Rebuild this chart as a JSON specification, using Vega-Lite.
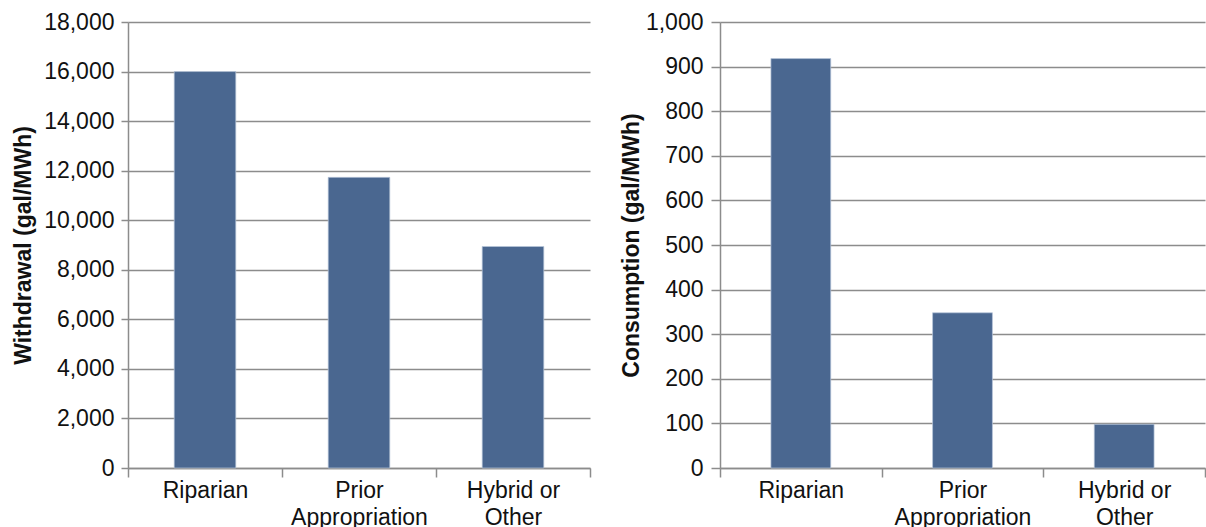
{
  "$schema": "https://vega.github.io/schema/vega-lite/v6.json",
  "padding": {"left": 12, "top": 11, "right": 1, "bottom": 0},
  "spacing": 29,
  "config": {
    "view": {"stroke": null},
    "font": "Liberation Sans",
    "axis": {
      "labelFont": "Liberation Sans",
      "titleFont": "Liberation Sans",
      "labelFontSize": 23,
      "labelColor": "#111111",
      "titleColor": "#111111",
      "titleFontSize": 23,
      "titleFontWeight": "bold",
      "domainColor": "#8c8c8c",
      "domainWidth": 1.5,
      "tickColor": "#8c8c8c",
      "tickWidth": 1.5,
      "gridColor": "#8c8c8c",
      "gridWidth": 1.5
    }
  },
  "datasets": {
    "withdrawal": [
      {"type": "Riparian", "value": 16000},
      {"type": "Prior Appropriation", "value": 11730},
      {"type": "Hybrid or Other", "value": 8940}
    ],
    "consumption": [
      {"type": "Riparian", "value": 918},
      {"type": "Prior Appropriation", "value": 348},
      {"type": "Hybrid or Other", "value": 98}
    ]
  },
  "hconcat": [
    {
      "width": 462,
      "height": 446,
      "data": {"name": "withdrawal"},
      "mark": {"type": "bar", "color": "#4a6790", "stroke": "#b8c6da", "strokeWidth": 0.7, "width": {"band": 0.4}},
      "encoding": {
        "x": {
          "field": "type",
          "type": "nominal",
          "sort": null,
          "scale": {"paddingInner": 0, "paddingOuter": 0},
          "axis": {
            "title": null,
            "labelAngle": 0,
            "tickBand": "extent",
            "tickSize": 9,
            "labelPadding": 2,
            "labelLineHeight": 27,
            "grid": false,
            "labelExpr": "datum.label == 'Prior Appropriation' ? ['Prior', 'Appropriation'] : datum.label == 'Hybrid or Other' ? ['Hybrid or', 'Other'] : datum.label"
          }
        },
        "y": {
          "field": "value",
          "type": "quantitative",
          "scale": {"domain": [0, 18000], "nice": false},
          "axis": {
            "title": "Withdrawal (gal/MWh)",
            "values": [0, 2000, 4000, 6000, 8000, 10000, 12000, 14000, 16000, 18000],
            "format": ",d",
            "tickSize": 7,
            "labelPadding": 7,
            "titlePadding": 8
          }
        }
      }
    },
    {
      "width": 485,
      "height": 446,
      "data": {"name": "consumption"},
      "mark": {"type": "bar", "color": "#4a6790", "stroke": "#b8c6da", "strokeWidth": 0.7, "width": {"band": 0.37}},
      "encoding": {
        "x": {
          "field": "type",
          "type": "nominal",
          "sort": null,
          "scale": {"paddingInner": 0, "paddingOuter": 0},
          "axis": {
            "title": null,
            "labelAngle": 0,
            "tickBand": "extent",
            "tickSize": 9,
            "labelPadding": 2,
            "labelLineHeight": 27,
            "grid": false,
            "labelExpr": "datum.label == 'Prior Appropriation' ? ['Prior', 'Appropriation'] : datum.label == 'Hybrid or Other' ? ['Hybrid or', 'Other'] : datum.label"
          }
        },
        "y": {
          "field": "value",
          "type": "quantitative",
          "scale": {"domain": [0, 1000], "nice": false},
          "axis": {
            "title": "Consumption (gal/MWh)",
            "values": [0, 100, 200, 300, 400, 500, 600, 700, 800, 900, 1000],
            "format": ",d",
            "tickSize": 9,
            "labelPadding": 8,
            "titlePadding": 2
          }
        }
      }
    }
  ]
}
